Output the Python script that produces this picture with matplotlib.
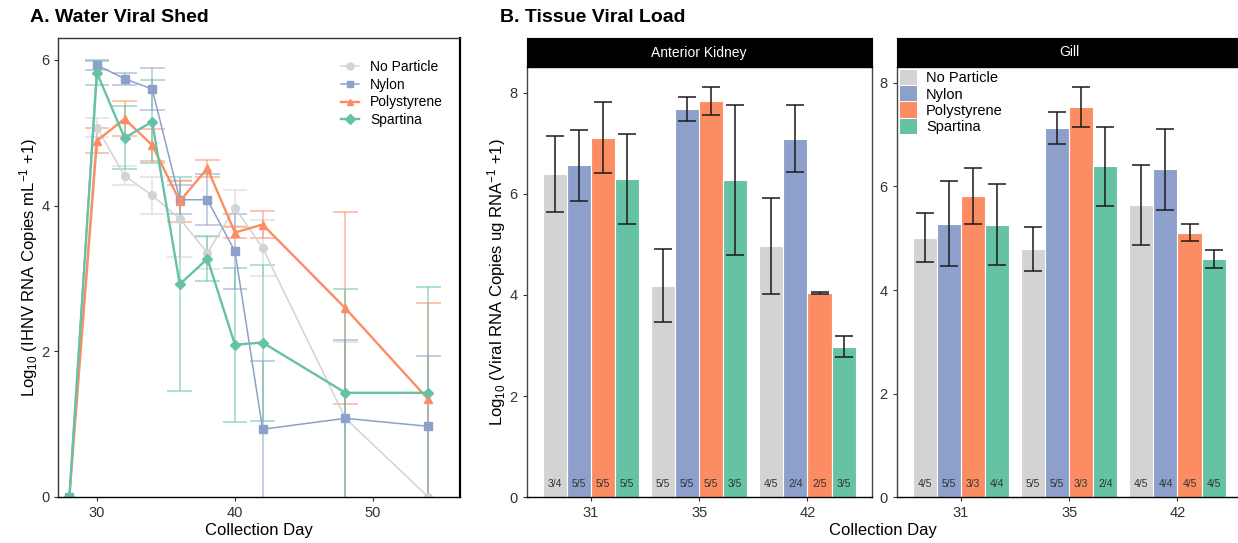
import numpy as np
import matplotlib
matplotlib.use("Agg")
import matplotlib.pyplot as plt
from matplotlib.patches import Patch
from matplotlib.lines import Line2D

plt.rcParams['font.family'] = ['Liberation Sans', 'DejaVu Sans']
plt.rcParams['mathtext.fontset'] = 'custom'
plt.rcParams['mathtext.rm'] = 'Liberation Sans'
plt.rcParams['mathtext.it'] = 'Liberation Sans:italic'

# ---- data: water viral shed ----
days = [28, 30, 32, 34, 36, 38, 40, 42, 48, 54]
np_mean = [0, 5.07, 4.41, 4.14, 3.82, 3.35, 3.97, 3.42, 1.08, 0]
ny_mean = [0, 5.93, 5.74, 5.60, 4.08, 4.08, 3.37, 0.93, 1.08, 0.97]
ps_mean = [0, 4.89, 5.19, 4.83, 4.06, 4.51, 3.63, 3.74, 2.59, 1.34]
sp_mean = [0, 5.82, 4.93, 5.15, 2.92, 3.27, 2.09, 2.12, 1.43, 1.43]
np_err = [0, 0.13, 0.13, 0.25, 0.53, 0.22, 0.25, 0.38, 1.05, 0]
ny_err = [0, 0.07, 0.08, 0.29, 0.20, 0.35, 0.51, 0.93, 1.08, 0.97]
ps_err = [0, 0.17, 0.24, 0.22, 0.28, 0.12, 0.07, 0.19, 1.32, 1.32]
sp_err = [0, 0.17, 0.43, 0.57, 1.47, 0.31, 1.06, 1.07, 1.43, 1.45]

# ---- data: tissue viral load ----
groups = ['No Particle', 'Nylon', 'Polystyrene', 'Spartina']
tissue_days = ['31', '35', '42']
kid_np = [6.39, 4.18, 4.96]
kid_ny = [6.56, 7.67, 7.09]
kid_ps = [7.11, 7.83, 4.03]
kid_sp = [6.29, 6.27, 2.98]
kid_np_err = [0.75, 0.72, 0.95]
kid_ny_err = [0.70, 0.24, 0.67]
kid_ps_err = [0.71, 0.27, 0.02]
kid_sp_err = [0.89, 1.48, 0.20]
kid_n = [['3/4', '5/5', '4/5'], ['5/5', '5/5', '2/4'],
         ['5/5', '5/5', '2/5'], ['5/5', '3/5', '3/5']]
gill_np = [5.01, 4.79, 5.64]
gill_ny = [5.28, 7.13, 6.33]
gill_ps = [5.82, 7.53, 5.11]
gill_sp = [5.26, 6.39, 4.60]
gill_np_err = [0.47, 0.42, 0.78]
gill_ny_err = [0.82, 0.31, 0.78]
gill_ps_err = [0.54, 0.38, 0.17]
gill_sp_err = [0.78, 0.76, 0.17]
gill_n = [['4/5', '5/5', '4/5'], ['5/5', '5/5', '4/4'],
          ['3/3', '3/3', '4/5'], ['4/4', '2/4', '4/5']]

colors = ['#d3d3d3', '#8da0cb', '#fc8d62', '#66c2a5']
markers = ['o', 's', '^', 'D']
lws = [1.1, 1.1, 1.7, 1.7]
tick_col = '#333333'

W, H = 1238, 543
fig = plt.figure(figsize=(W / 100, H / 100), dpi=100)

def box(x0, y0, x1, y1):
    return [x0 / W, 1 - y1 / H, (x1 - x0) / W, (y1 - y0) / H]

# ---------------- panel A ----------------
ax = fig.add_axes(box(58.3, 38, 460, 497))
means = [np_mean, ny_mean, ps_mean, sp_mean]
errs = [np_err, ny_err, ps_err, sp_err]
cap = 0.9  # half cap width in days
for i in range(4):
    m = np.array(means[i])
    e = np.array(errs[i])
    d = np.array(days, dtype=float)
    keep = e > 0
    lo = np.clip(m - e, 0, None)
    hi = m + e
    ax.vlines(d[keep], lo[keep], hi[keep], color=colors[i], alpha=0.6, lw=1.2)
    ax.hlines(hi[keep], d[keep] - cap, d[keep] + cap, color=colors[i], alpha=0.6, lw=1.2)
    # lower caps that fall at/below zero are cut off by the axis
    lk = keep & (m - e > 0.05)
    ax.hlines(lo[lk], d[lk] - cap, d[lk] + cap, color=colors[i], alpha=0.6, lw=1.2)
for i in range(4):
    ax.plot(days, means[i], color=colors[i], lw=lws[i], marker=markers[i],
            ms=5.5 if markers[i] != 'D' else 5, label=groups[i])
ax.set_xlim(27.2, 56.3)
ax.set_ylim(0, 6.3)
ax.set_xticks([30, 40, 50])
ax.set_yticks([0, 2, 4, 6])
ax.tick_params(labelsize=10.5, colors=tick_col, length=3)
for s in ax.spines.values():
    s.set_color('#333333')
    s.set_linewidth(1.0)
ax.spines['right'].set_color('black')
ax.spines['right'].set_linewidth(1.6)
ax.spines['bottom'].set_color('black')
ax.set_xlabel('Collection Day', fontsize=12, labelpad=2)
ax.set_ylabel(r'Log$_{10}$ (IHNV RNA Copies mL$^{-1}$ +1)', fontsize=12, labelpad=1)
handles = [Line2D([0], [0], color=colors[i], lw=lws[i], marker=markers[i], ms=5)
           for i in range(4)]
ax.legend(handles, groups, loc='upper left', bbox_to_anchor=(0.69, 0.965),
          frameon=False, fontsize=10, handlelength=1.3, labelspacing=0.28,
          handletextpad=0.8, borderaxespad=0)
fig.text(30 / W, 1 - 17 / H, 'A. Water Viral Shed', fontsize=14,
         fontweight='bold', va='center', ha='left')

# ---------------- panel B ----------------
fig.text(500 / W, 1 - 17 / H, 'B. Tissue Viral Load', fontsize=14,
         fontweight='bold', va='center', ha='left')

def bar_panel(x0, x1, title, vals, errs_, labels, ytop, legend=False):
    a = fig.add_axes(box(x0, 66.7, x1, 497.3))
    xs = np.arange(len(tissue_days))
    step = 0.2225
    for i in range(4):
        pos = xs + (i - 1.5) * step
        a.bar(pos, vals[i], width=step, color=colors[i], edgecolor='white',
              linewidth=0.8, zorder=2)
        a.errorbar(pos, vals[i], yerr=errs_[i], fmt='none', ecolor='#1a1a1a',
                   elinewidth=1.1, capsize=6.5, capthick=1.1, zorder=3)
        for j in range(len(xs)):
            a.text(pos[j], 0.26, labels[i][j], ha='center', va='center',
                   fontsize=7.5, color='#333333', zorder=4)
    a.set_xlim(-0.593, 2.593)
    a.set_ylim(0, ytop)
    a.set_xticks(xs)
    a.set_xticklabels(tissue_days)
    a.set_yticks([0, 2, 4, 6, 8])
    a.tick_params(labelsize=10.5, colors=tick_col, length=3)
    for s in a.spines.values():
        s.set_color('#444444')
        s.set_linewidth(1.0)
    a.spines['bottom'].set_color('black')
    # facet strip
    st = fig.add_axes(box(x0, 38.3, x1, 66.7))
    st.set_facecolor('black')
    st.set_xticks([])
    st.set_yticks([])
    st.text(0.5, 0.5, title, color='white', fontsize=10, ha='center',
            va='center', transform=st.transAxes)
    if legend:
        hs = [Patch(facecolor=c, edgecolor='none') for c in colors]
        a.legend(hs, groups, loc='upper left', bbox_to_anchor=(0.0, 1.0),
                 frameon=False, fontsize=10.5, handlelength=1.2,
                 handleheight=1.25, labelspacing=0.05, handletextpad=0.6,
                 borderaxespad=0.1, borderpad=0.1)
    return a

kid = bar_panel(526.7, 871.7, 'Anterior Kidney',
                [kid_np, kid_ny, kid_ps, kid_sp],
                [kid_np_err, kid_ny_err, kid_ps_err, kid_sp_err], kid_n, 8.51)
kid.set_ylabel(r'Log$_{10}$ (Viral RNA Copies ug RNA$^{-1}$ +1)', fontsize=12,
               labelpad=1)
gill = bar_panel(896.7, 1241.7, 'Gill',
                 [gill_np, gill_ny, gill_ps, gill_sp],
                 [gill_np_err, gill_ny_err, gill_ps_err, gill_sp_err], gill_n,
                 8.31, legend=True)
fig.text(883 / W, 1 - 530 / H, 'Collection Day', fontsize=12, ha='center',
         va='center')

fig.savefig('out.png', dpi=100)
